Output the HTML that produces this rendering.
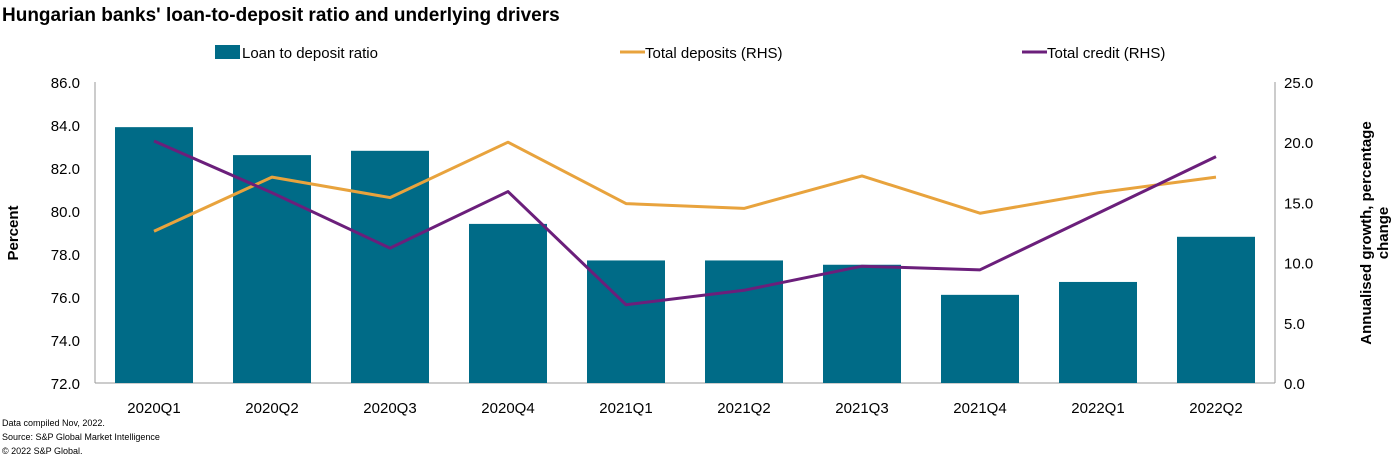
<!DOCTYPE html>
<html><head><meta charset="utf-8"><style>
body{margin:0;background:#fff;font-family:"Liberation Sans",Arial,sans-serif;}
svg text{font-family:"Liberation Sans",Arial,sans-serif;}
</style></head><body>
<svg id="c" width="1397" height="457" xmlns="http://www.w3.org/2000/svg">
<text x="2" y="21" font-size="19" font-weight="bold" fill="#000">Hungarian banks' loan-to-deposit ratio and underlying drivers</text>
<g>
<rect x="215" y="45" width="25" height="14" fill="#006b87"/>
<text x="242" y="58" font-size="15">Loan to deposit ratio</text>
<line x1="620" y1="52" x2="645" y2="52" stroke="#e8a33d" stroke-width="3"/>
<text x="645" y="58" font-size="15">Total deposits (RHS)</text>
<line x1="1022" y1="52" x2="1047" y2="52" stroke="#6b1f7b" stroke-width="3"/>
<text x="1047" y="58" font-size="15">Total credit (RHS)</text>
</g>
<line x1="95" y1="82" x2="95" y2="383" stroke="#999"/>
<line x1="1275" y1="82" x2="1275" y2="383" stroke="#999"/>
<line x1="95" y1="383" x2="1275" y2="383" stroke="#999"/>
<g id="bars"></g><g id="lines"></g><g id="ticks"></g>
<text transform="translate(18,233) rotate(-90)" text-anchor="middle" font-size="15" font-weight="bold">Percent</text>
<text transform="translate(1371,233) rotate(-90)" text-anchor="middle" font-size="15" font-weight="bold">Annualised  growth, percentage</text>
<text transform="translate(1388,233) rotate(-90)" text-anchor="middle" font-size="15" font-weight="bold">change</text>
<text x="2" y="426" font-size="9">Data compiled Nov, 2022.</text>
<text x="2" y="440" font-size="9">Source: S&amp;P Global Market Intelligence</text>
<text x="2" y="454" font-size="9">© 2022 S&amp;P Global.</text>
</svg>
<script>
const categories=["2020Q1","2020Q2","2020Q3","2020Q4","2021Q1","2021Q2","2021Q3","2021Q4","2022Q1","2022Q2"];
const ratio=[83.9,82.6,82.8,79.4,77.7,77.7,77.5,76.1,76.7,78.8];
const deposits=[12.6,17.1,15.4,20.0,14.9,14.5,17.2,14.1,15.8,17.1];
const credit=[20.1,15.8,11.2,15.9,6.5,7.7,9.7,9.4,14.1,18.8];
const leftTicks=[72,74,76,78,80,82,84,86];
const rightTicks=[0,5,10,15,20,25];
const NS="http://www.w3.org/2000/svg";
const x0=95,x1=1275,yT=82,yB=383;
const step=(x1-x0)/categories.length;
const xc=i=>x0+step*(i+0.5);
const yL=v=>yB-(v-72)/(86-72)*(yB-yT);
const yR=v=>yB-v/25*(yB-yT);
function mk(t,a,p){const e=document.createElementNS(NS,t);for(const k in a)e.setAttribute(k,a[k]);p.appendChild(e);return e;}
const bars=document.getElementById('bars'),lines=document.getElementById('lines'),ticks=document.getElementById('ticks');
ratio.forEach((v,i)=>{
 const r=mk('rect',{x:xc(i)-39,y:yL(v),width:78,height:yB-yL(v),fill:'#006b87'},bars);
 
 
});
categories.forEach((c,i)=>{
 const t=mk('text',{x:xc(i),y:413,'font-size':15,'text-anchor':'middle'},ticks);t.textContent=c;
 
 
});
leftTicks.forEach(v=>{
 const t=mk('text',{x:80,y:yL(v)+6,'font-size':15,'text-anchor':'end'},ticks);t.textContent=v.toFixed(1);
 
 
});
rightTicks.forEach(v=>{
 const t=mk('text',{x:1284,y:yR(v)+6,'font-size':15},ticks);t.textContent=v.toFixed(1);
 
 
});
const dl=mk('polyline',{points:deposits.map((v,i)=>xc(i)+','+yR(v)).join(' '),fill:'none',stroke:'#e8a33d','stroke-width':3,'stroke-linejoin':'round'},lines);


const cl=mk('polyline',{points:credit.map((v,i)=>xc(i)+','+yR(v)).join(' '),fill:'none',stroke:'#6b1f7b','stroke-width':3,'stroke-linejoin':'round'},lines);


</script>
</body></html>
